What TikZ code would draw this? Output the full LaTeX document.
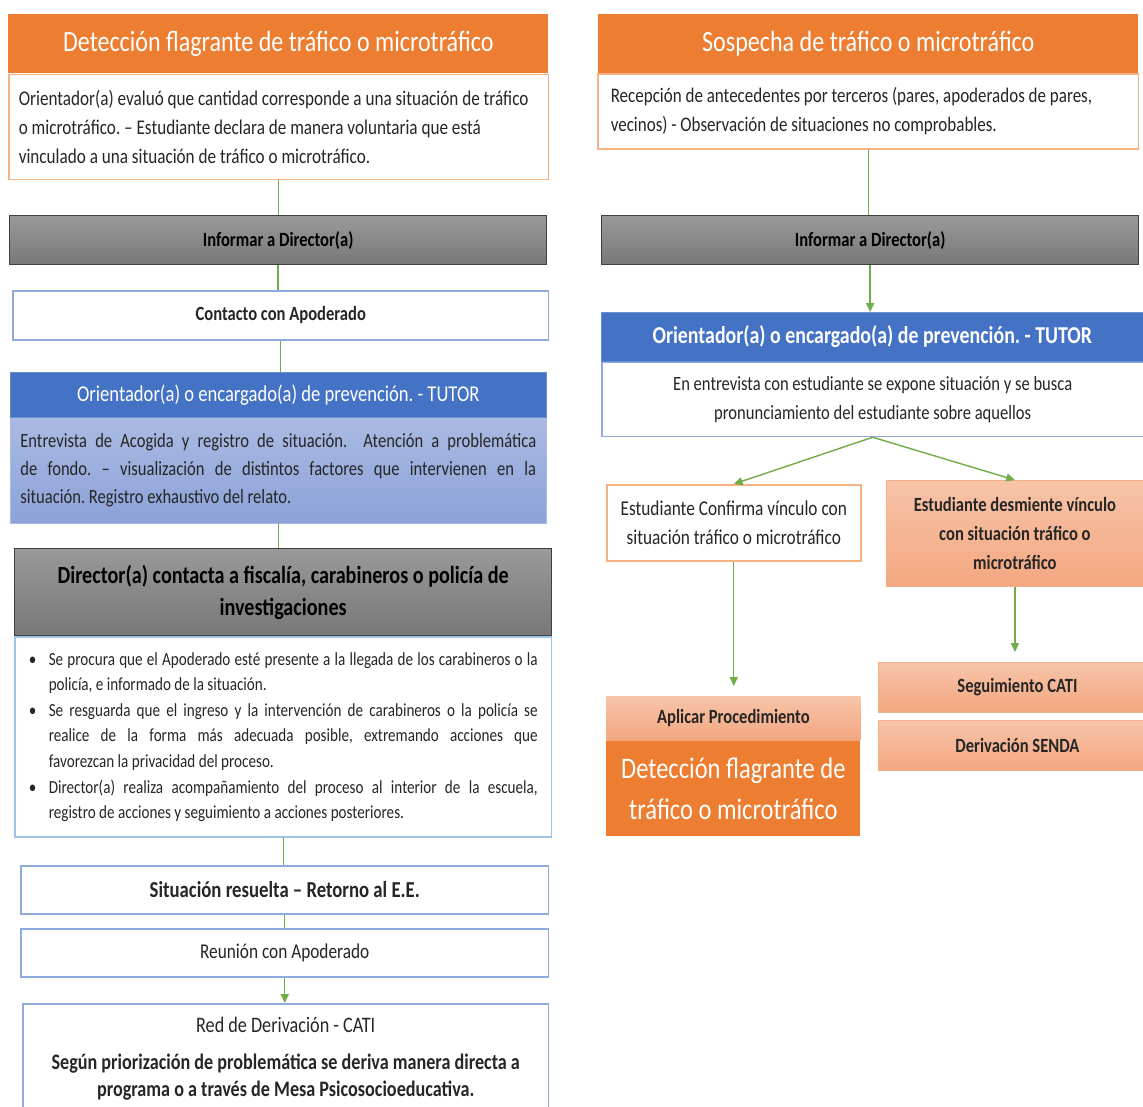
\documentclass[tikz,border=0pt]{standalone}
\usepackage{fontspec}
\setmainfont{Carlito}[FakeStretch=0.82]
\usetikzlibrary{positioning,calc,arrows.meta}
\definecolor{naranja}{HTML}{ED7D31}
\definecolor{naranjaClaro}{HTML}{F4B183}
\definecolor{salmonArriba}{HTML}{F7C4A8}
\definecolor{salmonAbajo}{HTML}{F3A780}
\definecolor{azul}{HTML}{4472C4}
\definecolor{azulClaro}{HTML}{8FAADC}
\definecolor{celeste}{HTML}{9DC3E6}
\definecolor{lilaArriba}{HTML}{AABAE2}
\definecolor{lilaAbajo}{HTML}{8CA2D9}
\definecolor{verde}{HTML}{70AD47}
\definecolor{texto}{HTML}{262626}
\hyphenpenalty=10000
\exhyphenpenalty=10000
\frenchspacing
\newcommand{\vineta}[1]{\noindent\hangindent=0.4cm\hangafter=1\makebox[0.4cm][l]{\textbullet}#1\par}

\begin{document}
\begin{tikzpicture}[x=0.02cm,y=-0.02cm,
	caja/.style={anchor=north west, inner sep=0pt, align=center, text=texto, font=\fontsize{11.5}{16.4}\selectfont, execute at begin node={\spaceskip=\fontdimen2\font\relax}},
	justo/.style={align=justify, execute at begin node={\spaceskip=0pt\relax}},
	titulo/.style={caja, fill=naranja, text=white, font=\fontsize{16.7}{20}\selectfont},
	borde/.style={caja, draw=naranjaClaro, fill=white, line width=0.9pt},
	lineaazul/.style={caja, draw=azulClaro, fill=white, line width=0.9pt},
	gris/.style={caja, top color=black!40, bottom color=black!53, draw=black!75, line width=0.8pt, text=black, font=\bfseries\fontsize{11.5}{16}\selectfont},
	tutor/.style={caja, fill=azul, draw=azul!80!white, text=white, font=\fontsize{12.9}{16}\selectfont},
	salmon/.style={caja, top color=salmonArriba, bottom color=salmonAbajo, draw=salmonAbajo!90!white, line width=0.5pt, font=\bfseries\fontsize{11.5}{16.4}\selectfont},
	flujo/.style={draw=verde, line width=0.8pt},
	flecha/.style={flujo, -{Triangle[length=5pt,width=4.5pt]}}
	]
		\def\xIzq{8}
		\def\xDer{598}
		\def\yTitulo{14}

\useasboundingbox (0,0) rectangle (1143,1106);
\fill[white] (0,0) rectangle (1143,1106);
\clip (0,0) rectangle (1143,1106);

% columna izquierda
\node[titulo, minimum width=10.8cm, minimum height=1.18cm] (detTit) at (\xIzq,\yTitulo) {Detección flagrante de tráfico o microtráfico};
\node[borde, minimum width=10.8cm, minimum height=2.1cm, text width=10.4cm, inner xsep=0.2cm, align=left, font=\fontsize{11.9}{16.4}\selectfont] (detTxt) at (detTit.south west) {Orientador(a) evaluó que cantidad corresponde a una situación de tráfico\\ o microtráfico. – Estudiante declara de manera voluntaria que está\\ vinculado a una situación de tráfico o microtráfico.};
\node[gris, minimum width=10.74cm, minimum height=0.98cm] (dirA) at (9,215) {Informar a Director(a)};
\node[lineaazul, minimum width=10.72cm, minimum height=0.98cm, font=\bfseries\fontsize{11.5}{16}\selectfont] (contA) at (12,290) {Contacto con Apoderado};
\node[tutor, minimum width=10.72cm, minimum height=0.9cm] (tutA) at (10,372) {Orientador(a) o encargado(a) de prevención. - TUTOR};
\node[caja, justo, top color=lilaArriba, bottom color=lilaAbajo, draw=lilaArriba, minimum width=10.72cm, minimum height=2.1cm, text width=10.32cm, inner xsep=0.2cm, font=\fontsize{11.5}{15.9}\selectfont] (entA) at (tutA.south west) {Entrevista de Acogida y registro de situación. \ Atención a problemática\linebreak de fondo. – visualización de distintos factores que intervienen en la\linebreak situación. Registro exhaustivo del relato.};
\node[gris, minimum width=10.74cm, minimum height=1.74cm, font=\bfseries\fontsize{14}{18}\selectfont] (fisA) at (14,548) {Director(a) contacta a fiscalía, carabineros o policía de\\ investigaciones};
\node[caja, justo, draw=celeste, fill=white, line width=0.9pt, minimum width=10.74cm, minimum height=4cm, text width=10.18cm, inner xsep=0.28cm, font=\fontsize{10.5}{14.6}\selectfont] (medA) at (fisA.south west) {\vineta{Se procura que el Apoderado esté presente a la llegada de los carabineros o la\linebreak policía, e informado de la situación.}\vineta{Se resguarda que el ingreso y la intervención de carabineros o la policía se\linebreak realice de la forma más adecuada posible, extremando acciones que\linebreak favorezcan la privacidad del proceso.}\vineta{Director(a) realiza acompañamiento del proceso al interior de la escuela,\linebreak registro de acciones y seguimiento a acciones posteriores.}};
\node[lineaazul, minimum width=10.56cm, minimum height=0.96cm, font=\bfseries\fontsize{13}{16}\selectfont] (resA) at (20,865) {Situación resuelta – Retorno al E.E.};
\node[lineaazul, minimum width=10.56cm, minimum height=0.96cm, font=\fontsize{12}{16}\selectfont] (reuA) at (20,928) {Reunión con Apoderado};
\node[lineaazul, minimum width=10.52cm, minimum height=2.2cm, text width=10.12cm, inner xsep=0.2cm, font=\fontsize{12.6}{15.3}\selectfont] (redA) at (22,1003) {Red de Derivación - CATI\\[6pt] \textbf{Según priorización de problemática se deriva manera directa a}\\ \textbf{programa o a través de Mesa Psicosocioeducativa.}};

% columna derecha
\node[titulo, minimum width=10.8cm, minimum height=1.18cm] (sosTit) at (\xDer,\yTitulo) {Sospecha de tráfico o microtráfico};
\node[borde, minimum width=10.82cm, minimum height=1.5cm, text width=10.3cm, inner xsep=0.26cm, align=left, font=\fontsize{11.8}{16.4}\selectfont] (sosTxt) at (597,73) {Recepción de antecedentes por terceros (pares, apoderados de pares,\\ vecinos) - Observación de situaciones no comprobables.};
\node[gris, minimum width=10.74cm, minimum height=0.98cm] (dirB) at (601,215) {Informar a Director(a)};
\node[tutor, minimum width=10.84cm, minimum height=0.98cm, font=\bfseries\fontsize{13.8}{16}\selectfont] (tutB) at (601,312) {Orientador(a) o encargado(a) de prevención. - TUTOR};
\node[lineaazul, minimum width=10.84cm, minimum height=1.48cm, text width=10.44cm, inner xsep=0.2cm] (entB) at (tutB.south west) {En entrevista con estudiante se expone situación y se busca\\ pronunciamiento del estudiante sobre aquellos};
\node[borde, minimum width=5.08cm, minimum height=1.52cm, text width=4.8cm, inner xsep=0.14cm, font=\fontsize{12}{16.8}\selectfont] (confB) at (606,484) {Estudiante Confirma vínculo con\\ situación tráfico o microtráfico};
\node[salmon, minimum width=5.14cm, minimum height=2.12cm, text width=4.9cm, inner xsep=0.12cm] (desB) at (886,480) {Estudiante desmiente vínculo\\ con situación tráfico o\\ microtráfico};
\node[salmon, minimum width=5.56cm, minimum height=1cm] (segB) at (878,662) {Seguimiento CATI};
\node[salmon, minimum width=5.56cm, minimum height=1cm] (derB) at (878,720) {Derivación SENDA};
\node[salmon, minimum width=5.08cm, minimum height=0.88cm, draw=none] (aplB) at (606,696) {Aplicar Procedimiento};
\node[titulo, minimum width=5.08cm, minimum height=1.9cm, text width=4.9cm, inner xsep=0.09cm, font=\fontsize{17}{23.5}\selectfont] (flaB) at (aplB.south west) {Detección flagrante de\\ tráfico o microtráfico};

% conectores
\draw[flujo] (detTxt.south) -- (detTxt.south |- dirA.north);
\draw[flujo] (dirA.south) -- (dirA.south |- contA.north);
\draw[flujo] (contA.south) -- (contA.south |- tutA.north);
\draw[flujo] (entA.south) -- (entA.south |- fisA.north);
\draw[flujo] (medA.south) -- (medA.south |- resA.north);
\draw[flujo] (resA.south) -- (resA.south |- reuA.north);
\draw[flecha] (reuA.south) -- (reuA.south |- redA.north);

\draw[flujo] (sosTxt.south) -- (sosTxt.south |- dirB.north);
\draw[flecha] (dirB.south) -- (dirB.south |- tutB.north);
\draw[flecha] (entB.south) -- (confB.north);
\draw[flecha] (entB.south) -- (desB.north);
\draw[flecha, shorten >=0.2cm] (confB.south) -- (confB.south |- aplB.north);
\draw[flecha, shorten >=0.2cm] (desB.south) -- (desB.south |- segB.north);

	\end{tikzpicture}
\end{document}
